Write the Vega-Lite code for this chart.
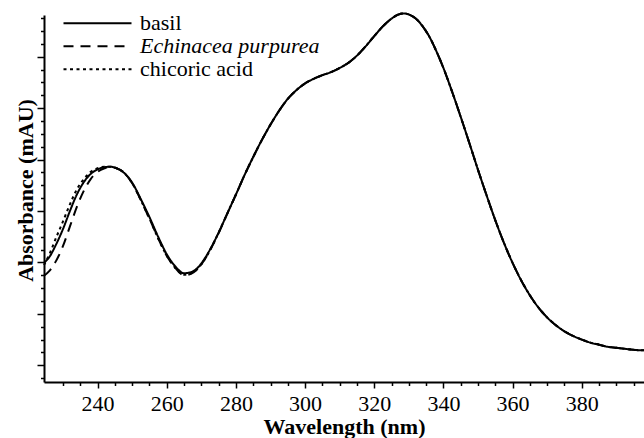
{
  "$schema": "https://vega.github.io/schema/vega-lite/v6.json",
  "width": 600,
  "height": 367,
  "autosize": "none",
  "padding": {"left": 44, "top": 15, "right": 0, "bottom": 56},
  "background": "white",
  "config": {
    "view": {"stroke": null},
    "font": "Liberation Serif"
  },
  "data": {
    "values": [
      {"nm": 224.5, "basil": 19.9, "Echinacea purpurea": 17.4, "chicoric acid": 19.5},
      {"nm": 226, "basil": 21.0, "Echinacea purpurea": 18.3, "chicoric acid": 21.5},
      {"nm": 228, "basil": 23.5, "Echinacea purpurea": 20.3, "chicoric acid": 24.8},
      {"nm": 230, "basil": 26.5, "Echinacea purpurea": 23.2, "chicoric acid": 28.0},
      {"nm": 232, "basil": 30.0, "Echinacea purpurea": 27.0, "chicoric acid": 31.3},
      {"nm": 234, "basil": 33.2, "Echinacea purpurea": 30.8, "chicoric acid": 34.2},
      {"nm": 236, "basil": 35.6, "Echinacea purpurea": 33.9, "chicoric acid": 36.2},
      {"nm": 238, "basil": 37.2, "Echinacea purpurea": 36.2, "chicoric acid": 37.6},
      {"nm": 240, "basil": 38.1, "Echinacea purpurea": 37.6, "chicoric acid": 38.3},
      {"nm": 242, "basil": 38.5, "Echinacea purpurea": 38.3, "chicoric acid": 38.6},
      {"nm": 243.6, "basil": 38.6, "Echinacea purpurea": 38.6, "chicoric acid": 38.6},
      {"nm": 245.5, "basil": 38.3, "Echinacea purpurea": 38.3, "chicoric acid": 38.3},
      {"nm": 247.5, "basil": 37.5, "Echinacea purpurea": 37.5, "chicoric acid": 37.5},
      {"nm": 250, "basil": 35.5, "Echinacea purpurea": 35.4, "chicoric acid": 35.4},
      {"nm": 252.5, "basil": 32.3, "Echinacea purpurea": 32.1, "chicoric acid": 32.1},
      {"nm": 255, "basil": 28.8, "Echinacea purpurea": 28.5, "chicoric acid": 28.5},
      {"nm": 257.5, "basil": 25.0, "Echinacea purpurea": 24.7, "chicoric acid": 24.7},
      {"nm": 260, "basil": 21.6, "Echinacea purpurea": 21.3, "chicoric acid": 21.3},
      {"nm": 262.5, "basil": 19.2, "Echinacea purpurea": 18.9, "chicoric acid": 18.9},
      {"nm": 265, "basil": 17.9, "Echinacea purpurea": 17.5, "chicoric acid": 17.6},
      {"nm": 267, "basil": 18.1, "Echinacea purpurea": 17.8, "chicoric acid": 17.9},
      {"nm": 269, "basil": 19.0, "Echinacea purpurea": 18.8, "chicoric acid": 18.8},
      {"nm": 271, "basil": 20.8, "Echinacea purpurea": 20.6, "chicoric acid": 20.6},
      {"nm": 273, "basil": 23.1, "Echinacea purpurea": 23.0, "chicoric acid": 23.0},
      {"nm": 275, "basil": 25.8, "Echinacea purpurea": 25.7, "chicoric acid": 25.8},
      {"nm": 277.5, "basil": 29.5, "Echinacea purpurea": 29.5, "chicoric acid": 29.5},
      {"nm": 280, "basil": 33.2, "Echinacea purpurea": 33.2, "chicoric acid": 33.2},
      {"nm": 282.5, "basil": 37.0, "Echinacea purpurea": 37.0, "chicoric acid": 37.0},
      {"nm": 285, "basil": 40.5, "Echinacea purpurea": 40.5, "chicoric acid": 40.5},
      {"nm": 287.5, "basil": 43.8, "Echinacea purpurea": 43.8, "chicoric acid": 43.8},
      {"nm": 290, "basil": 46.8, "Echinacea purpurea": 46.8, "chicoric acid": 46.8},
      {"nm": 292.5, "basil": 49.5, "Echinacea purpurea": 49.5, "chicoric acid": 49.5},
      {"nm": 295, "basil": 51.8, "Echinacea purpurea": 51.8, "chicoric acid": 51.8},
      {"nm": 297.5, "basil": 53.5, "Echinacea purpurea": 53.5, "chicoric acid": 53.5},
      {"nm": 300, "basil": 54.8, "Echinacea purpurea": 54.8, "chicoric acid": 54.8},
      {"nm": 302.5, "basil": 55.7, "Echinacea purpurea": 55.7, "chicoric acid": 55.7},
      {"nm": 305, "basil": 56.4, "Echinacea purpurea": 56.4, "chicoric acid": 56.4},
      {"nm": 307.5, "basil": 57.0, "Echinacea purpurea": 57.0, "chicoric acid": 57.0},
      {"nm": 310, "basil": 57.8, "Echinacea purpurea": 57.8, "chicoric acid": 57.8},
      {"nm": 312.5, "basil": 58.8, "Echinacea purpurea": 58.8, "chicoric acid": 58.8},
      {"nm": 315, "basil": 60.2, "Echinacea purpurea": 60.2, "chicoric acid": 60.2},
      {"nm": 317.5, "basil": 62.0, "Echinacea purpurea": 62.0, "chicoric acid": 62.0},
      {"nm": 320, "basil": 64.0, "Echinacea purpurea": 64.0, "chicoric acid": 64.0},
      {"nm": 322.5, "basil": 65.9, "Echinacea purpurea": 65.9, "chicoric acid": 65.9},
      {"nm": 325, "basil": 67.4, "Echinacea purpurea": 67.4, "chicoric acid": 67.4},
      {"nm": 327, "basil": 68.2, "Echinacea purpurea": 68.2, "chicoric acid": 68.2},
      {"nm": 328.5, "basil": 68.4, "Echinacea purpurea": 68.4, "chicoric acid": 68.4},
      {"nm": 330, "basil": 68.2, "Echinacea purpurea": 68.2, "chicoric acid": 68.2},
      {"nm": 332, "basil": 67.4, "Echinacea purpurea": 67.4, "chicoric acid": 67.4},
      {"nm": 334, "basil": 65.9, "Echinacea purpurea": 65.9, "chicoric acid": 65.9},
      {"nm": 336, "basil": 63.8, "Echinacea purpurea": 63.8, "chicoric acid": 63.8},
      {"nm": 338, "basil": 61.0, "Echinacea purpurea": 61.0, "chicoric acid": 61.0},
      {"nm": 340, "basil": 57.8, "Echinacea purpurea": 57.8, "chicoric acid": 57.8},
      {"nm": 342.5, "basil": 53.2, "Echinacea purpurea": 53.2, "chicoric acid": 53.2},
      {"nm": 345, "basil": 48.3, "Echinacea purpurea": 48.3, "chicoric acid": 48.3},
      {"nm": 347.5, "basil": 43.2, "Echinacea purpurea": 43.2, "chicoric acid": 43.2},
      {"nm": 350, "basil": 38.0, "Echinacea purpurea": 38.0, "chicoric acid": 38.0},
      {"nm": 352.5, "basil": 33.0, "Echinacea purpurea": 33.0, "chicoric acid": 33.0},
      {"nm": 355, "basil": 28.2, "Echinacea purpurea": 28.2, "chicoric acid": 28.2},
      {"nm": 357.5, "basil": 23.8, "Echinacea purpurea": 23.8, "chicoric acid": 23.8},
      {"nm": 360, "basil": 19.9, "Echinacea purpurea": 19.9, "chicoric acid": 19.9},
      {"nm": 362.5, "basil": 16.5, "Echinacea purpurea": 16.5, "chicoric acid": 16.5},
      {"nm": 365, "basil": 13.6, "Echinacea purpurea": 13.6, "chicoric acid": 13.6},
      {"nm": 367.5, "basil": 11.2, "Echinacea purpurea": 11.2, "chicoric acid": 11.2},
      {"nm": 370, "basil": 9.3, "Echinacea purpurea": 9.3, "chicoric acid": 9.3},
      {"nm": 372.5, "basil": 7.8, "Echinacea purpurea": 7.8, "chicoric acid": 7.8},
      {"nm": 375, "basil": 6.6, "Echinacea purpurea": 6.6, "chicoric acid": 6.6},
      {"nm": 377.5, "basil": 5.7, "Echinacea purpurea": 5.7, "chicoric acid": 5.7},
      {"nm": 380, "basil": 5.0, "Echinacea purpurea": 5.0, "chicoric acid": 5.0},
      {"nm": 382.5, "basil": 4.4, "Echinacea purpurea": 4.4, "chicoric acid": 4.4},
      {"nm": 385, "basil": 4.0, "Echinacea purpurea": 4.0, "chicoric acid": 4.0},
      {"nm": 387.5, "basil": 3.6, "Echinacea purpurea": 3.6, "chicoric acid": 3.6},
      {"nm": 390, "basil": 3.4, "Echinacea purpurea": 3.4, "chicoric acid": 3.4},
      {"nm": 392.5, "basil": 3.2, "Echinacea purpurea": 3.2, "chicoric acid": 3.2},
      {"nm": 395, "basil": 3.0, "Echinacea purpurea": 3.0, "chicoric acid": 3.0},
      {"nm": 398, "basil": 2.9, "Echinacea purpurea": 2.9, "chicoric acid": 2.9}
    ]
  },
  "transform": [
    {"fold": ["basil", "Echinacea purpurea", "chicoric acid"], "as": ["series", "v"]}
  ],
  "mark": {"type": "line", "interpolate": "monotone", "color": "black", "strokeWidth": 2, "clip": false},
  "encoding": {
    "x": {
      "field": "nm",
      "type": "quantitative",
      "scale": {"domain": [224.5, 398], "nice": false, "zero": false},
      "axis": {
        "title": "Wavelength (nm)",
        "values": [230,235,240,245,250,255,260,265,270,275,280,285,290,295,300,305,310,315,320,325,330,335,340,345,350,355,360,365,370,375,380,385,390,395],
        "labelExpr": "datum.value % 20 === 0 ? datum.label : ''",
        "grid": false,
        "domainColor": "black",
        "domainWidth": 2,
        "tickColor": "black",
        "tickWidth": 1.5,
        "tickSize": {"condition": {"test": "datum.value % 20 === 0", "value": 6}, "value": 3.5},
        "labelFont": "Liberation Serif",
        "labelFontSize": 22,
        "labelColor": "black",
        "labelPadding": 5,
        "labelFlush": false,
        "labelOverlap": false,
        "titleFont": "Liberation Serif",
        "titleFontSize": 22,
        "titleFontWeight": "bold",
        "titleColor": "black",
        "titleBaseline": "alphabetic",
        "titleY": 51.5
      }
    },
    "y": {
      "field": "v",
      "type": "quantitative",
      "scale": {"domain": [-3.25, 68.1], "nice": false, "zero": false},
      "axis": {
        "title": "Absorbance (mAU)",
        "values": [-2.5,0,2.5,5,7.5,10,12.5,15,17.5,20,22.5,25,27.5,30,32.5,35,37.5,40,42.5,45,47.5,50,52.5,55,57.5,60,62.5,65,67.5],
        "labels": false,
        "grid": false,
        "domainColor": "black",
        "domainWidth": 2,
        "tickColor": "black",
        "tickWidth": 1.5,
        "tickSize": {"condition": {"test": "datum.value % 10 === 0", "value": 7}, "value": 3.5},
        "titleFont": "Liberation Serif",
        "titleFontSize": 22,
        "titleFontWeight": "bold",
        "titleColor": "black",
        "titleBaseline": "alphabetic",
        "titleX": -12,
        "titleY": 175
      }
    },
    "strokeDash": {
      "field": "series",
      "type": "nominal",
      "scale": {
        "domain": ["basil", "Echinacea purpurea", "chicoric acid"],
        "range": [[1, 0], [10, 7], [3, 3.5]]
      },
      "legend": {
        "title": null,
        "orient": "none",
        "legendX": 42.5,
        "legendY": -2.7,
        "padding": 0,
        "symbolType": "M-17,0H17",
        "symbolSize": 16,
        "symbolStrokeWidth": 2,
        "symbolStrokeColor": "black",
        "symbolFillColor": "transparent",
        "labelOffset": 31.5,
        "labelFont": "Liberation Serif",
        "labelFontSize": 22,
        "labelColor": "black",
        "rowPadding": 1,
        "labelLimit": 400,
        "encode": {
          "labels": {
            "update": {
              "fontStyle": {"signal": "datum.label === 'Echinacea purpurea' ? 'italic' : 'normal'"}
            }
          }
        }
      }
    }
  }
}
